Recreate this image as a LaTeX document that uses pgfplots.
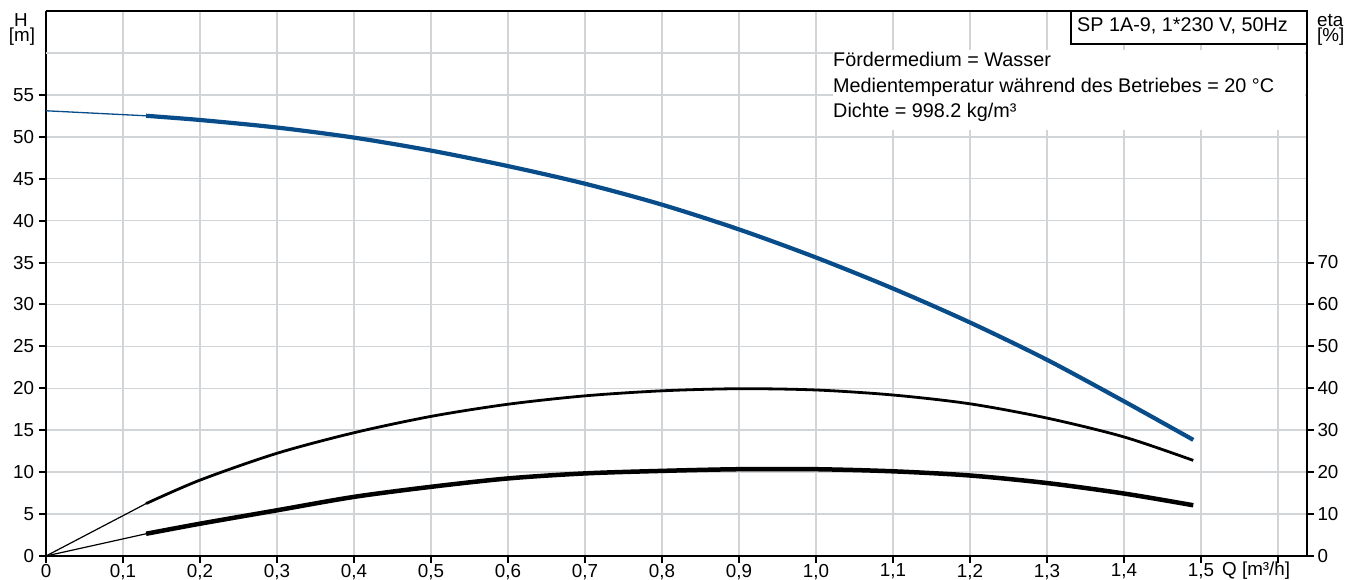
\documentclass[border=0pt]{standalone}
\usepackage{fontspec}
\setmainfont{Liberation Sans}
\usepackage{pgfplots}
\pgfplotsset{compat=1.18}

\definecolor{pumpblue}{RGB}{8,76,138}
\definecolor{gridgray}{RGB}{210,213,216}
\newcommand{\cf}{\fontsize{19.8}{24}\selectfont}
\newcommand{\tf}{\fontsize{18.8}{22}\selectfont}

\begin{document}
\begin{tikzpicture}
% left axis: head H [m]
\begin{axis}[
  name=hax,
  scale only axis, width=1261pt, height=545pt,
  xmin=0, xmax=1.6377, ymin=0, ymax=65,
  axis x line*=bottom, axis y line*=left,
  axis line style={line width=2.5pt},
  xtick={0,0.1,0.2,0.3,0.4,0.5,0.6,0.7,0.8,0.9,1.0,1.1,1.2,1.3,1.4,1.5,1.6},
  xticklabels={0,{0,1},{0,2},{0,3},{0,4},{0,5},{0,6},{0,7},{0,8},{0,9},{1,0},{1,1},{1,2},{1,3},{1,4},{1,5},{}},
  ytick={0,5,...,55},
  extra y ticks={60}, extra y tick labels={},
  extra y tick style={major tick length=0pt},
  tick align=outside, major tick length=7pt,
  tick style={line width=2pt, black},
  grid=major, grid style={gridgray, line width=1.5pt},
  tick label style={font=\tf},
  xticklabel style={yshift=2.5pt},
  yticklabel style={xshift=-1.5pt},
  /pgf/number format/assume math mode=true,
]
% H curve
\addplot[pumpblue, line width=1.3pt] coordinates {(0,53.1) (0.13,52.5)};
\addplot[pumpblue, line width=4.2pt, smooth] coordinates {
  (0.13,52.5) (0.2,52.0) (0.3,51.1) (0.4,49.9) (0.5,48.35) (0.6,46.5)
  (0.7,44.4) (0.8,41.9) (0.9,38.95) (1.0,35.6) (1.1,31.9) (1.2,27.85)
  (1.3,23.4) (1.4,18.45) (1.49,13.85)
};
\end{axis}

% right axis: eta [%]
\begin{axis}[
  scale only axis, width=1261pt, height=545pt,
  xmin=0, xmax=1.6377, ymin=0, ymax=130,
  axis x line=none, axis y line*=right,
  axis line style={line width=2.5pt},
  ytick={0,10,...,70},
  tick align=outside, major tick length=7pt,
  tick style={line width=2pt, black},
  tick label style={font=\tf},
  /pgf/number format/assume math mode=true,
]
% upper eta curve
\addplot[black, line width=1.2pt] coordinates {(0,0) (0.13,12.5)};
\addplot[black, line width=2.8pt, smooth] coordinates {
  (0.13,12.5) (0.2,18.1) (0.3,24.5) (0.4,29.4) (0.5,33.3) (0.6,36.2)
  (0.7,38.2) (0.8,39.4) (0.9,39.9) (1.0,39.6) (1.1,38.4) (1.2,36.3)
  (1.3,32.9) (1.4,28.4) (1.49,22.8)
};
% lower eta curve
\addplot[black, line width=1.2pt] coordinates {(0,0) (0.13,5.3)};
\addplot[black, line width=4.5pt, smooth] coordinates {
  (0.13,5.3) (0.2,7.7) (0.3,10.9) (0.4,14.1) (0.5,16.5) (0.6,18.5)
  (0.7,19.7) (0.8,20.3) (0.9,20.7) (1.0,20.7) (1.1,20.2) (1.2,19.2)
  (1.3,17.4) (1.4,14.9) (1.49,12.1)
};
\end{axis}

% texts, placed in pixels from the top left corner of the page
\coordinate (TL) at ([xshift=-46pt,yshift=11pt]hax.north west);
\begin{scope}[shift={(TL)}, x=1pt, y=-1pt]
  \fill[white] (833,50) rectangle (1305,130);
  \node[anchor=base west, inner sep=0, font=\cf] at (833,67) {Fördermedium = Wasser};
  \node[anchor=base west, inner sep=0, font=\cf] at (833,92.5) {Medientemperatur während des Betriebes = 20 °C};
  \node[anchor=base west, inner sep=0, font=\cf] at (833,118) {Dichte = 998.2 kg/m³};
  \draw[line width=1.2pt, fill=white] (1071,11) rectangle (1307,44);
  \node[anchor=base west, inner sep=0, font=\cf] at (1077,32) {SP 1A-9, 1*230 V, 50Hz};
  \draw[line width=1.3pt] (46,11) -- (1307,11);
  \node[anchor=base, inner sep=0, font=\tf] at (21,27) {H};
  \node[anchor=base, inner sep=0, font=\tf] at (22,41.5) {[m]};
  \node[anchor=base west, inner sep=0, font=\tf] at (1317,27) {eta};
  \node[anchor=base west, inner sep=0, font=\tf] at (1317,41.5) {[\%]};
  \node[anchor=base west, inner sep=0, font=\tf] at (1222,576) {Q [m³/h]};
  \pgfresetboundingbox
  \path[use as bounding box] (0,0) rectangle (1360,580);
\end{scope}
\end{tikzpicture}
\end{document}
